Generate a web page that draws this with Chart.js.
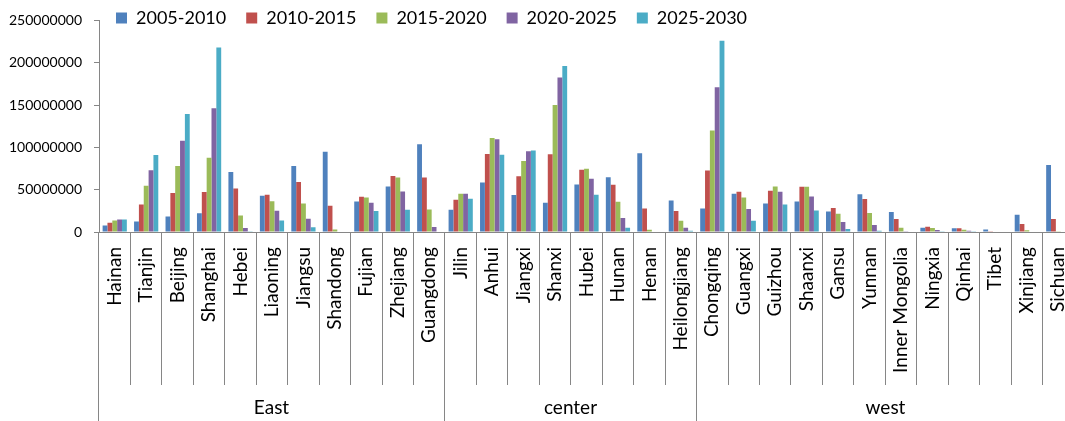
<!DOCTYPE html>
<html>
<head>
<meta charset="utf-8">
<script src="https://cdn.jsdelivr.net/npm/chart.js@4"></script>
<style>
  html, body { margin: 0; padding: 0; overflow: hidden; background: #fff; }
  canvas { display: block; }
</style>
</head>
<body>
<canvas id="myChart" width="1074" height="421"></canvas>
<script>
const provinces = ['Hainan', 'Tianjin', 'Beijing', 'Shanghai', 'Hebei', 'Liaoning', 'Jiangsu', 'Shandong', 'Fujian', 'Zhejiang', 'Guangdong',
  'Jilin', 'Anhui', 'Jiangxi', 'Shanxi', 'Hubei', 'Hunan', 'Henan', 'Heilongjiang',
  'Chongqing', 'Guangxi', 'Guizhou', 'Shaanxi', 'Gansu', 'Yunnan', 'Inner Mongolia', 'Ningxia', 'Qinhai', 'Tibet', 'Xinjiang', 'Sichuan'];

// regions, in the same order as the provinces above
const regionNames = ['East', 'center', 'west'];
const regionSizes = [11, 8, 12];

const periods = ['2005-2010', '2010-2015', '2015-2020', '2020-2025', '2025-2030'];

const v2005_2010 = [7800000, 12500000, 18400000, 22300000, 70900000, 42700000, 78000000, 94800000, 36000000, 53700000, 103800000,
  26300000, 58500000, 43600000, 34500000, 56100000, 64800000, 93000000, 37300000,
  27900000, 45100000, 33800000, 36100000, 24300000, 44700000, 23500000, 5100000, 4300000, 3100000, 20400000, 79300000];
const v2010_2015 = [11000000, 32500000, 46200000, 47400000, 51300000, 43900000, 59200000, 31000000, 41500000, 66200000, 64300000,
  38100000, 92200000, 65900000, 91800000, 73400000, 55700000, 27900000, 24700000,
  72600000, 47500000, 48700000, 53400000, 28300000, 38900000, 15300000, 6300000, 4300000, 300000, 9400000, 15300000];
const v2015_2020 = [13700000, 54500000, 78000000, 87800000, 19600000, 36400000, 33700000, 3100000, 40800000, 64300000, 26600000,
  45100000, 111000000, 84000000, 150000000, 74600000, 35700000, 2700000, 13300000,
  120000000, 40800000, 53800000, 53400000, 21600000, 22400000, 5100000, 4700000, 2700000, 0, 2000000, 800000];
const v2020_2025 = [14900000, 72900000, 107800000, 146200000, 4700000, 25100000, 15700000, 0, 34500000, 47800000, 5900000,
  45100000, 109500000, 95400000, 182500000, 62800000, 16500000, 0, 5100000,
  171000000, 27100000, 47500000, 42000000, 11800000, 8200000, 800000, 2400000, 1600000, 0, 0, 0];
const v2025_2030 = [14900000, 90900000, 139500000, 217900000, 800000, 13700000, 5500000, 0, 24700000, 26300000, 0,
  39200000, 91400000, 96200000, 196200000, 44000000, 5100000, 0, 1600000,
  226000000, 13300000, 32600000, 25500000, 3500000, 1600000, 0, 800000, 400000, 0, 0, 0];

const yTicks = [0, 50000000, 100000000, 150000000, 200000000, 250000000];

const colors = ['#4F81BD', '#C0504D', '#9BBB59', '#8064A2', '#4BACC6'];
const axisGrey = '#868686';

Chart.defaults.font.family = 'Lato';
Chart.defaults.color = '#000';

// legend sits beside the top of the value axis, like the spreadsheet layout
const legendPlace = {
  id: 'legendPlace',
  afterLayout(chart) {
    const lg = chart.legend;
    const pad = lg.options.labels.padding;
    lg.left = chart.chartArea.left + 17 - pad;
    lg.top = 18 - 9 - pad;
    lg.bottom = lg.top + pad + 30; // room for the text, the legend clips to its box
  }
};

// second row of the category axis: East / center / west
const regionAxis = {
  id: 'regionAxis',
  afterDraw(chart) {
    const { ctx, scales: { x } } = chart;
    const half = (x.getPixelForValue(1) - x.getPixelForValue(0)) / 2;
    const edge = i => Math.round(x.getPixelForValue(i) - half - 0.5) + 0.5;
    ctx.save();
    ctx.strokeStyle = axisGrey;
    ctx.lineWidth = 1;
    ctx.font = '19px Lato';
    ctx.fillStyle = '#000';
    ctx.textAlign = 'center';
    ctx.textBaseline = 'middle';
    let start = 0;
    regionNames.forEach((name, i) => {
      const end = start + regionSizes[i];
      const x0 = edge(start), x1 = edge(end);
      [x0, x1].forEach(px => {
        ctx.beginPath();
        ctx.moveTo(px, x.top);
        ctx.lineTo(px, chart.height);
        ctx.stroke();
      });
      ctx.fillText(name, (x0 + x1) / 2, x.bottom - 13);
      start = end;
    });
    ctx.restore();
  }
};

const series = [v2005_2010, v2010_2015, v2015_2020, v2020_2025, v2025_2030];

new Chart(document.getElementById('myChart'), {
  type: 'bar',
  data: {
    labels: provinces,
    datasets: periods.map((p, i) => ({
      label: p,
      data: series[i],
      backgroundColor: colors[i],
      borderWidth: 0,
      categoryPercentage: 0.77,
      barPercentage: 1
    }))
  },
  plugins: [legendPlace, regionAxis],
  options: {
    responsive: false,
    animation: false,
    layout: { padding: 0 },
    plugins: {
      tooltip: { enabled: false },
      legend: {
        position: 'top',
        align: 'start',
        maxHeight: 19,
        labels: {
          boxWidth: 11,
          boxHeight: 11,
          padding: 20,
          font: { size: 18 },
          color: '#000'
        }
      }
    },
    scales: {
      x: {
        grid: {
          offset: true,
          drawOnChartArea: false,
          tickLength: 153,
          color: axisGrey
        },
        border: { color: axisGrey },
        ticks: {
          autoSkip: false,
          minRotation: 90,
          maxRotation: 90,
          padding: -138,
          font: { size: 19 },
          color: '#000'
        },
        afterFit(scale) { scale.height = 189; }
      },
      y: {
        min: yTicks[0],
        max: yTicks[yTicks.length - 1],
        grid: {
          drawOnChartArea: false,
          tickLength: 5,
          color: axisGrey
        },
        border: { color: axisGrey },
        ticks: {
          stepSize: yTicks[1] - yTicks[0],
          padding: 12,
          font: { size: 14 },
          color: '#000',
          callback: v => String(v)
        },
        afterFit(scale) { scale.width = 99; }
      }
    }
  }
});
</script>
</body>
</html>
